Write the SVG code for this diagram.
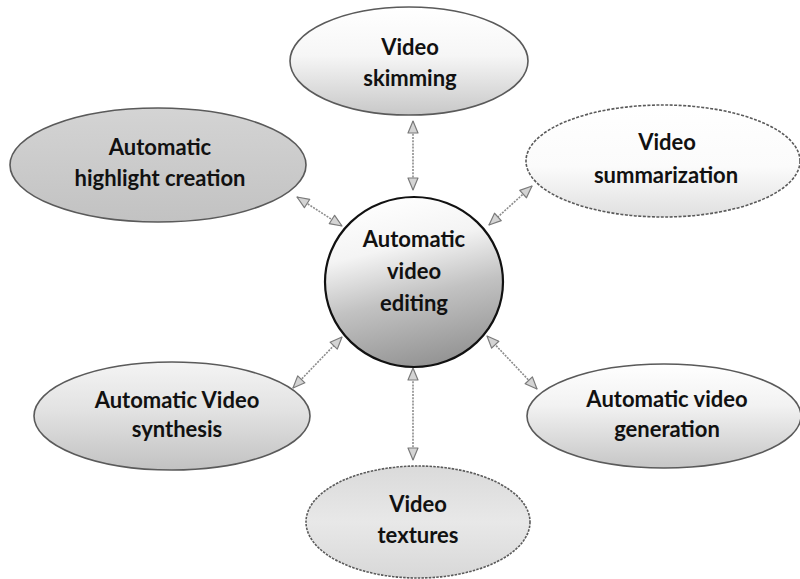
<svg xmlns="http://www.w3.org/2000/svg" width="800" height="579" viewBox="0 0 800 579">
  <defs>
    <style>
      .lbl { font-family: Lato, "Open Sans", "Liberation Sans", sans-serif; font-weight: bold; font-size: 22px; fill: #111; text-anchor: middle; }
      .node { stroke: #5a5a5a; stroke-width: 1.6; }
      .link { stroke: #8c8c8c; stroke-width: 1.6; stroke-dasharray: 2 1.2; fill: none; marker-start: url(#head); marker-end: url(#head); }
    </style>
    <!-- hollow triangular arrowhead used at both ends of every link -->
    <marker id="head" viewBox="0 0 14 12" refX="13" refY="6" markerWidth="14" markerHeight="12" markerUnits="userSpaceOnUse" orient="auto-start-reverse">
      <path d="M1,1 L13,6 L1,11 Z" fill="#d4d4d4" stroke="#7a7a7a" stroke-width="1.2" stroke-linejoin="round"/>
    </marker>
    <!-- shaded fills: light at the top, greyer towards the bottom -->
    <linearGradient id="gCenter" x1="0.3" y1="0" x2="0.55" y2="1">
      <stop offset="0" stop-color="#ffffff"/>
      <stop offset="0.3" stop-color="#f4f4f4"/>
      <stop offset="0.6" stop-color="#c2c2c2"/>
      <stop offset="1" stop-color="#949494"/>
    </linearGradient>
    <linearGradient id="gHigh" x1="0" y1="0" x2="0" y2="1">
      <stop offset="0" stop-color="#d4d4d4"/>
      <stop offset="1" stop-color="#c2c2c2"/>
    </linearGradient>
    <linearGradient id="gSkim" x1="0" y1="0" x2="0" y2="1">
      <stop offset="0" stop-color="#ffffff"/>
      <stop offset="0.45" stop-color="#f6f6f6"/>
      <stop offset="1" stop-color="#c8c8c8"/>
    </linearGradient>
    <linearGradient id="gSumm" x1="0" y1="0" x2="0" y2="1">
      <stop offset="0" stop-color="#ffffff"/>
      <stop offset="0.55" stop-color="#fbfbfb"/>
      <stop offset="1" stop-color="#e0e0e0"/>
    </linearGradient>
    <linearGradient id="gSyn" x1="0" y1="0" x2="0" y2="1">
      <stop offset="0" stop-color="#f4f4f4"/>
      <stop offset="0.45" stop-color="#e2e2e2"/>
      <stop offset="1" stop-color="#c2c2c2"/>
    </linearGradient>
    <linearGradient id="gGen" x1="0" y1="0" x2="0" y2="1">
      <stop offset="0" stop-color="#ffffff"/>
      <stop offset="0.4" stop-color="#f2f2f2"/>
      <stop offset="1" stop-color="#c6c6c6"/>
    </linearGradient>
    <linearGradient id="gTex" x1="0" y1="0" x2="0" y2="1">
      <stop offset="0" stop-color="#dadada"/>
      <stop offset="0.5" stop-color="#e8e8e8"/>
      <stop offset="1" stop-color="#d8d8d8"/>
    </linearGradient>
  </defs>

  <rect width="800" height="579" fill="#ffffff"/>

  <!-- connectors: double-headed arrows between the hub and each satellite -->
  <g id="connectors">
    <line class="link" x1="413" y1="121" x2="413" y2="190"/>
    <line class="link" x1="297" y1="197" x2="342" y2="226"/>
    <line class="link" x1="532" y1="186" x2="489" y2="225"/>
    <line class="link" x1="293" y1="388" x2="342" y2="337"/>
    <line class="link" x1="537" y1="389" x2="487" y2="336"/>
    <line class="link" x1="413" y1="460" x2="413" y2="368"/>
  </g>

  <g id="skimming">
    <ellipse class="node" cx="409" cy="61" rx="119" ry="54" fill="url(#gSkim)"/>
    <text class="lbl" x="410" y="55">Video</text>
    <text class="lbl" x="410" y="86">skimming</text>
  </g>

  <g id="highlight">
    <ellipse class="node" cx="158" cy="165" rx="148" ry="57" fill="url(#gHigh)"/>
    <text class="lbl" x="160" y="155">Automatic</text>
    <text class="lbl" x="160" y="186">highlight creation</text>
  </g>

  <g id="summarization">
    <ellipse class="node" cx="663" cy="161" rx="137" ry="56" fill="url(#gSumm)" stroke="#8a8a8a" stroke-dasharray="3 1.5"/>
    <text class="lbl" x="667" y="150">Video</text>
    <text class="lbl" x="666" y="183">summarization</text>
  </g>

  <g id="hub">
    <ellipse cx="414" cy="282" rx="89" ry="85" fill="url(#gCenter)" stroke="#111" stroke-width="2.2"/>
    <text class="lbl" x="414" y="247">Automatic</text>
    <text class="lbl" x="414" y="279">video</text>
    <text class="lbl" x="414" y="311">editing</text>
  </g>

  <g id="synthesis">
    <ellipse class="node" cx="172" cy="416" rx="138" ry="54" fill="url(#gSyn)"/>
    <text class="lbl" x="177" y="408">Automatic Video</text>
    <text class="lbl" x="177" y="437">synthesis</text>
  </g>

  <g id="generation">
    <ellipse class="node" cx="664" cy="416" rx="137" ry="52" fill="url(#gGen)"/>
    <text class="lbl" x="667" y="407">Automatic video</text>
    <text class="lbl" x="667" y="437">generation</text>
  </g>

  <g id="textures">
    <ellipse class="node" cx="418" cy="522" rx="112" ry="56" fill="url(#gTex)" stroke="#6a6a6a" stroke-dasharray="2.5 1.2"/>
    <text class="lbl" x="418" y="512">Video</text>
    <text class="lbl" x="418" y="543">textures</text>
  </g>
</svg>
